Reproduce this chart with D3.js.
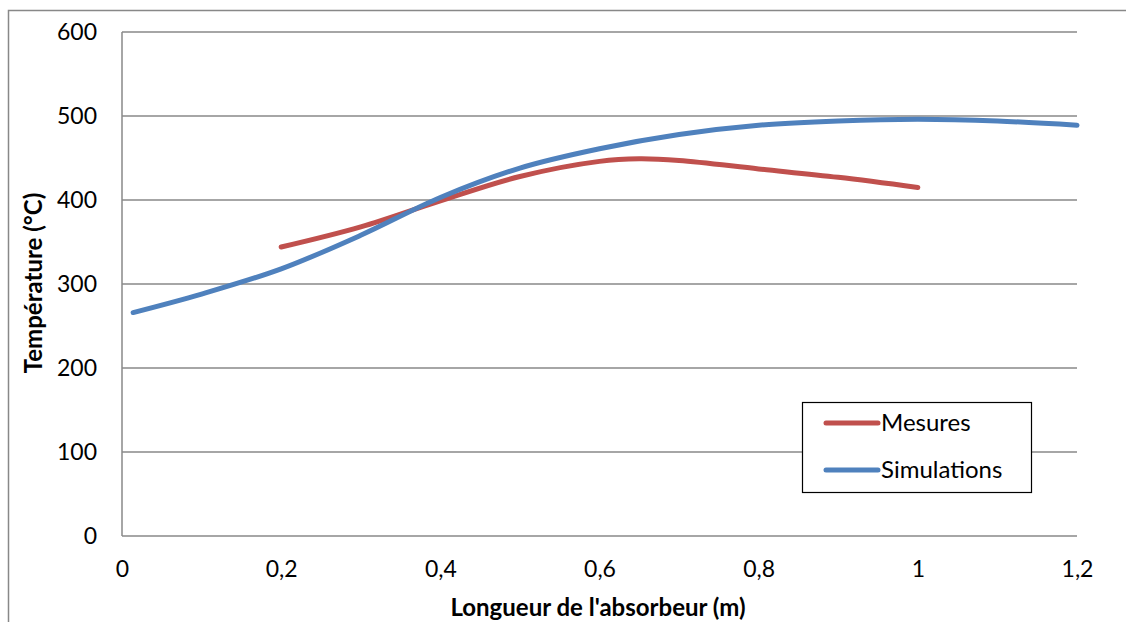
<!DOCTYPE html>
<html lang="fr">
<head>
<meta charset="UTF-8">
<title>Température le long de l'absorbeur</title>
<script src="https://cdn.jsdelivr.net/npm/d3@7"></script>
<style>
  body { margin: 0; background: #fff; }
  svg { display: block; font-family: Lato, "Open Sans", sans-serif; }
</style>
</head>
<body>
<div id="chart"></div>
<script>
// values
const mesuresX = [0.2, 0.3, 0.4, 0.5, 0.6, 0.65, 0.7, 0.8, 0.9, 1.0]
const mesuresY = [344, 368, 399, 428, 446, 449, 447, 437, 427, 415]
const simX = [0.014, 0.1, 0.2, 0.3, 0.4, 0.5, 0.6, 0.7, 0.8, 0.9, 1.0, 1.1, 1.2]
const simY = [266, 288, 318, 358, 403, 438, 461, 478, 489, 494, 496, 494, 489]
const xTicks = [0, 0.2, 0.4, 0.6, 0.8, 1, 1.2]
const yTicks = [0, 100, 200, 300, 400, 500, 600]
const seriesNames = ["Mesures", "Simulations"]
const seriesColors = ["#C0504D", "#4F81BD"]

const width = 1126, height = 622
const margin = { left: 122, right: 49, top: 32, bottom: 86 }

const svg = d3.select("#chart").append("svg")
  .attr("width", width)
  .attr("height", height)

// outer frame
svg.append("path")
  .attr("d", `M8.5,${height} V10.5 H${width}`)
  .attr("fill", "none")
  .attr("stroke", "#888")
  .attr("stroke-width", 1.5)

const x = d3.scaleLinear().domain([0, 1.2]).range([margin.left, width - margin.right])
const y = d3.scaleLinear().domain([0, 600]).range([height - margin.bottom, margin.top])

// grid
svg.append("g")
  .selectAll("line")
  .data(yTicks.slice(1))
  .enter().append("line")
  .attr("x1", x(0)).attr("x2", x(1.2))
  .attr("y1", d => y(d)).attr("y2", d => y(d))
  .attr("stroke", "#888").attr("stroke-width", 1.5)

// axes lines
svg.append("line")
  .attr("x1", x(0)).attr("x2", x(1.2))
  .attr("y1", y(0)).attr("y2", y(0))
  .attr("stroke", "#888").attr("stroke-width", 1.5)
svg.append("line")
  .attr("x1", x(0)).attr("x2", x(0))
  .attr("y1", y(0)).attr("y2", y(600))
  .attr("stroke", "#888").attr("stroke-width", 1.5)

const fmt = d => String(d).replace(".", ",")

const yAxis = d3.axisLeft(y).tickValues(yTicks).tickSize(0).tickPadding(25)
svg.append("g")
  .attr("transform", `translate(${x(0)},0)`)
  .call(yAxis)
  .call(g => g.select(".domain").remove())
  .selectAll("text")
  .attr("font-size", 23).attr("fill", "#000")
  .attr("font-family", "Lato, 'Open Sans', sans-serif")

const xAxis = d3.axisBottom(x).tickValues(xTicks).tickFormat(fmt).tickSize(0).tickPadding(25)
svg.append("g")
  .attr("transform", `translate(0,${y(0)})`)
  .call(xAxis)
  .call(g => g.select(".domain").remove())
  .selectAll("text")
  .attr("font-size", 23).attr("fill", "#000")
  .attr("font-family", "Lato, 'Open Sans', sans-serif")

// axis titles
svg.append("text")
  .attr("x", 598).attr("y", 616)
  .attr("text-anchor", "middle")
  .attr("font-size", 24).attr("font-weight", "bold")
  .text("Longueur de l'absorbeur (m)")

svg.append("text")
  .attr("transform", "translate(42,283) rotate(-90)")
  .attr("text-anchor", "middle")
  .attr("font-size", 24).attr("font-weight", "bold")
  .text("Température (°C)")

// lines
const line = d3.line()
  .x(d => x(d[0]))
  .y(d => y(d[1]))
  .curve(d3.curveCatmullRom.alpha(0.5))

const series = [d3.zip(mesuresX, mesuresY), d3.zip(simX, simY)]

svg.append("g")
  .selectAll("path")
  .data(series)
  .enter().append("path")
  .attr("d", line)
  .attr("fill", "none")
  .attr("stroke", (_, i) => seriesColors[i])
  .attr("stroke-width", 5)
  .attr("stroke-linecap", "round")
  .attr("stroke-linejoin", "round")

// legend
const legend = svg.append("g").attr("transform", "translate(802,402)")
legend.append("rect")
  .attr("x", 0.5).attr("y", 0.5)
  .attr("width", 229).attr("height", 90)
  .attr("fill", "#fff").attr("stroke", "#000").attr("stroke-width", 1.2)

const item = legend.selectAll(".item")
  .data(seriesNames)
  .enter().append("g")
  .attr("transform", (_, i) => `translate(0,${21 + i * 47})`)
item.append("line")
  .attr("x1", 24).attr("x2", 76)
  .attr("stroke", (_, i) => seriesColors[i])
  .attr("stroke-width", 5)
  .attr("stroke-linecap", "round")
item.append("text")
  .attr("x", 79).attr("y", 8)
  .attr("font-size", 24)
  .text(d => d)
</script>
</body>
</html>
